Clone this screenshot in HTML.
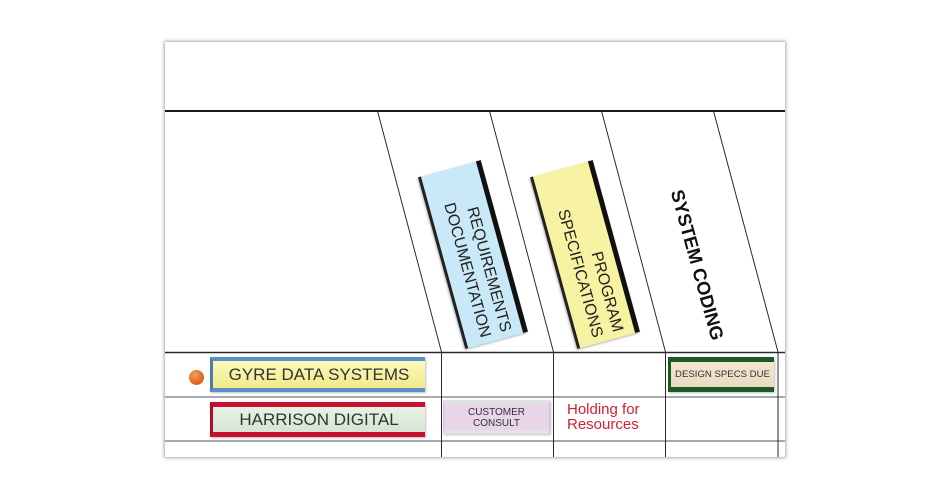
<!DOCTYPE html>
<html><head><meta charset="utf-8"><style>
html,body{margin:0;padding:0;background:#fff;}
body{width:950px;height:497px;position:relative;overflow:hidden;font-family:"Liberation Sans",Arial,sans-serif;}
.board{position:absolute;left:165px;top:42px;width:620px;height:415px;background:#fff;box-shadow:0 0 3px 1px rgba(0,0,0,0.35);}
svg{position:absolute;left:0;top:0;}
.vtag{position:absolute;box-sizing:border-box;width:178px;height:65px;transform:rotate(74.6deg);color:#222;font-size:16px;line-height:21px;text-align:right;padding:6px 6px 0 0;box-shadow:1px 1px 2px rgba(0,0,0,0.3);white-space:nowrap;}
.tag{position:absolute;box-sizing:border-box;color:#333;text-align:center;white-space:nowrap;box-shadow:1px 1px 2px rgba(0,0,0,0.25);}
</style></head><body>
<div class="board"></div>
<svg width="950" height="497" viewBox="0 0 950 497">
  <line x1="165" y1="111" x2="785" y2="111" stroke="#1a1a1a" stroke-width="2"/>
  <line x1="165" y1="352.5" x2="785" y2="352.5" stroke="#2a2a2a" stroke-width="1.5"/>
  <line x1="165" y1="397" x2="785" y2="397" stroke="#555" stroke-width="1"/>
  <line x1="165" y1="441" x2="785" y2="441" stroke="#555" stroke-width="1"/>
  <g stroke="#2a2a2a" stroke-width="1">
    <line x1="377.5" y1="111" x2="441.5" y2="352"/>
    <line x1="489.5" y1="111" x2="553.5" y2="352"/>
    <line x1="601.5" y1="111" x2="665.5" y2="352"/>
    <line x1="713.5" y1="111" x2="778" y2="352"/>
    <line x1="441.5" y1="352" x2="441.5" y2="457"/>
    <line x1="553.5" y1="352" x2="553.5" y2="457"/>
    <line x1="665.5" y1="352" x2="665.5" y2="457"/>
    <line x1="778" y1="352" x2="778" y2="457"/>
  </g>
</svg>

<div class="vtag" style="left:384px;top:221.5px;background:#c9e8f8;border-top:5px solid #111;border-bottom:3px solid #222;">REQUIREMENTS<br>DOCUMENTATION</div>
<div class="vtag" style="left:496px;top:221.5px;background:#f7f3a2;border-top:5px solid #111;border-bottom:3px solid #222;">PROGRAM<br>SPECIFICATIONS</div>
<div style="position:absolute;left:617px;top:254px;width:160px;height:22px;line-height:22px;text-align:center;transform:rotate(74.6deg);font-weight:bold;font-size:18.5px;color:#111;white-space:nowrap;">SYSTEM CODING</div>

<div style="position:absolute;left:189px;top:370px;width:15px;height:15px;border-radius:50%;background:radial-gradient(circle at 40% 35%,#f5a05a,#e0661c 60%,#b84a10);"></div>
<div class="tag" style="left:210px;top:357px;width:215px;height:35px;background:linear-gradient(#fcf8bb,#f2ea8c);border-top:4px solid #5b8fc8;border-bottom:4px solid #5b8fc8;border-left:3px solid #4a7db5;font-size:17px;line-height:27px;">GYRE DATA SYSTEMS</div>
<div class="tag" style="left:210px;top:402px;width:215px;height:35px;background:linear-gradient(#e8f1e6,#d6e4d3);border-top:5px solid #c8102e;border-bottom:5px solid #c8102e;border-left:3px solid #b00d28;font-size:17px;line-height:25px;">HARRISON DIGITAL</div>
<div class="tag" style="left:443px;top:400px;width:107px;height:34px;background:#e8d5ea;border:1px solid #c8c8c8;border-top:4px solid #e2e2e2;border-bottom:4px solid #e2e2e2;font-size:10px;line-height:11px;padding-top:3px;">CUSTOMER<br>CONSULT</div>
<div style="position:absolute;left:567px;top:402px;color:#d42030;font-size:15px;line-height:15px;font-family:'Liberation Sans',sans-serif;">Holding for<br>Resources</div>
<div class="tag" style="left:668px;top:357px;width:106px;height:35px;background:linear-gradient(#f3e7d4,#e9dac2);border-top:5px solid #1d5a23;border-bottom:5px solid #1d5a23;border-left:3px solid #1d5a23;font-size:9.6px;line-height:25px;">DESIGN SPECS DUE</div>
</body></html>
